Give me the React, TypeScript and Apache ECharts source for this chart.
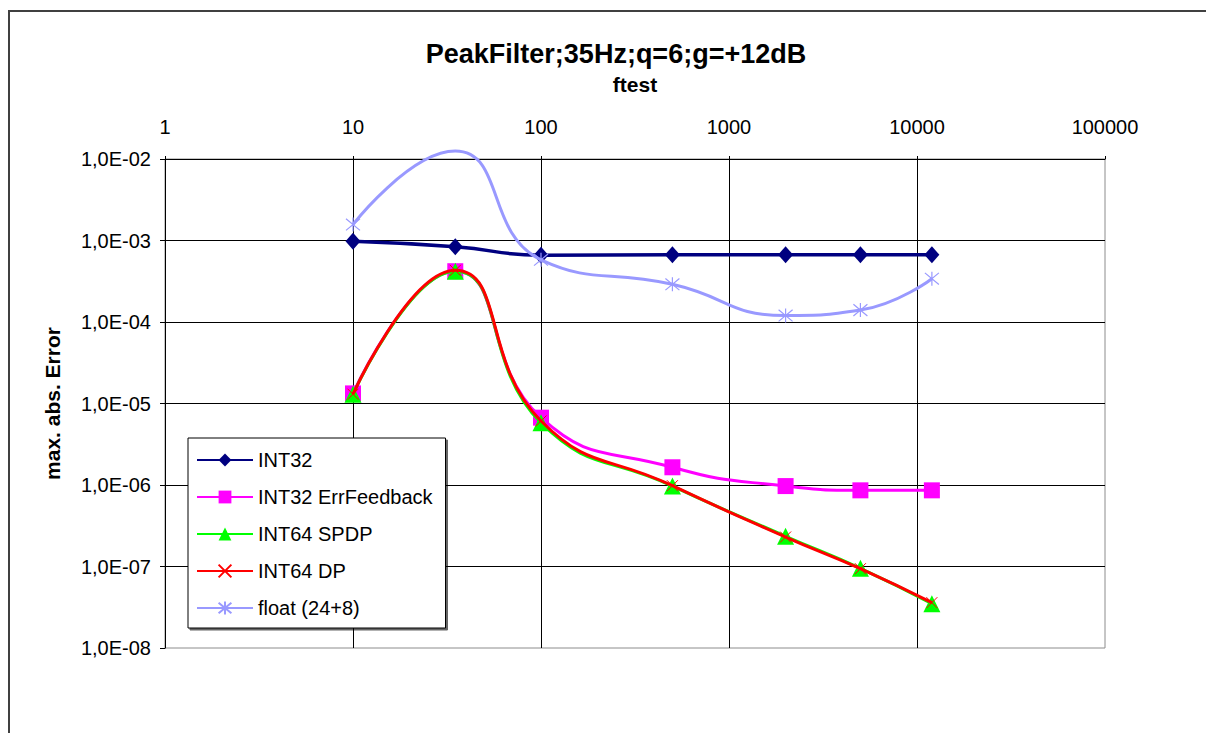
import React, { useEffect, useRef } from "react";
import * as echarts from "echarts";

const freqs = [10, 35, 100, 500, 2000, 5000, 12000];
const int32 = [9.8e-4, 8.4e-4, 6.6e-4, 6.7e-4, 6.7e-4, 6.7e-4, 6.7e-4];
const int32Err = [1.33e-5, 4.2e-4, 6.7e-6, 1.65e-6, 9.7e-7, 8.6e-7, 8.6e-7];
const int64Spdp = [1.3e-5, 4.2e-4, 5.8e-6, 9.7e-7, 2.35e-7, 9.5e-8, 3.5e-8];
const int64Dp = [1.3e-5, 4.3e-4, 6.1e-6, 9.8e-7, 2.3e-7, 9.4e-8, 3.6e-8];
const float248 = [1.57e-3, 1.25e-2, 5.8e-4, 2.9e-4, 1.2e-4, 1.4e-4, 3.4e-4];
const hiddenMarkerIdx = [1]; // float marker at 35 not visible

const seriesNames = ["INT32", "INT32 ErrFeedback", "INT64 SPDP", "INT64 DP", "float (24+8)"];
const xTickLabels = ["1", "10", "100", "1000", "10000", "100000"];

const FONT = 'Arial, "Liberation Sans", sans-serif';

const crossPath = "path://M0,0L10,10M10,0L0,10";
const starPath = "path://M0,0L10,10M10,0L0,10M5,-1L5,11";

function fmtY(v: number) {
  const e = Math.round(Math.log10(v));
  const s = e < 0 ? "-" : "+";
  return "1,0E" + s + String(Math.abs(e)).padStart(2, "0");
}

export default function App() {
  const ref = useRef<HTMLDivElement>(null);
  useEffect(() => {
    if (!ref.current) return;
    const chart = echarts.init(ref.current, null, { renderer: "svg" });
    const mk = (vals: number[]) => freqs.map((f, i) => [f, vals[i]]);
    const option: any = {
      animation: false,
      backgroundColor: "#ffffff",
      textStyle: { fontFamily: FONT },
      title: {
        text: "PeakFilter;35Hz;q=6;g=+12dB",
        left: 611,
        textAlign: "center",
        top: 35,
        textStyle: { fontFamily: FONT, fontSize: 27, fontWeight: "bold", color: "#000" },
      },
      graphic: [
        {
          type: "rect",
          shape: { x: 9, y: 11, width: 1300, height: 1000 },
          style: { fill: "none", stroke: "#404040", lineWidth: 2 },
          silent: true,
        },
      ],
      grid: {
        left: 165,
        top: 159,
        width: 940,
        height: 489,
        show: true,
        borderColor: "#8c8c8c",
        borderWidth: 1,
        containLabel: false,
      },
      legend: {
        orient: "vertical",
        left: 188,
        top: 438,
        data: seriesNames,
        backgroundColor: "#fff",
        borderColor: "#000",
        borderWidth: 1,
        padding: [12, 13, 10, 8],
        itemWidth: 56,
        itemHeight: 16,
        itemGap: 17,
        shadowColor: "rgba(0,0,0,0.6)",
        shadowOffsetX: 2,
        shadowOffsetY: 2,
        textStyle: { fontFamily: FONT, fontSize: 20, lineHeight: 20, color: "#000", padding: [0, 0, 0, 0] },
      },
      xAxis: {
        type: "log",
        logBase: 10,
        min: 1,
        max: 100000,
        position: "top",
        name: "ftest",
        nameLocation: "middle",
        nameGap: 64,
        nameTextStyle: { fontFamily: FONT, fontSize: 21, fontWeight: "bold", color: "#000", verticalAlign: "bottom" },
        axisLine: { show: true, lineStyle: { color: "#000", width: 1 } },
        axisTick: { show: true, inside: false, length: 3, lineStyle: { color: "#000" } },
        axisLabel: {
          fontFamily: FONT,
          fontSize: 20,
          color: "#000",
          margin: 22,
          formatter: (v: number) => {
            const e = Math.round(Math.log10(v));
            return xTickLabels[e] ?? String(v);
          },
        },
        splitLine: { show: true, showMinLine: false, showMaxLine: false, lineStyle: { color: "#000", width: 1 } },
        minorTick: { show: false },
      },
      yAxis: {
        type: "log",
        logBase: 10,
        min: 1e-8,
        max: 1e-2,
        name: "max. abs. Error",
        nameLocation: "middle",
        nameGap: 102,
        nameRotate: 90,
        nameTextStyle: { fontFamily: FONT, fontSize: 21, fontWeight: "bold", color: "#000" },
        axisLine: { show: true, lineStyle: { color: "#000", width: 1 } },
        axisTick: { show: true, length: 5, lineStyle: { color: "#000" } },
        axisLabel: { fontFamily: FONT, fontSize: 20, color: "#000", margin: 14, formatter: fmtY },
        splitLine: { show: true, showMinLine: false, showMaxLine: false, lineStyle: { color: "#000", width: 1 } },
      },
      series: [
        {
          name: seriesNames[0],
          type: "line",
          data: mk(int32),
          smooth: 0.5,
          symbol: "diamond",
          symbolSize: [15, 17],
          lineStyle: { color: "#000080", width: 3.5 },
          itemStyle: { color: "#000080" },
          z: 2,
        },
        {
          name: seriesNames[1],
          type: "line",
          data: mk(int32Err),
          smooth: 0.5,
          symbol: "rect",
          symbolSize: 16,
          lineStyle: { color: "#ff00ff", width: 3 },
          itemStyle: { color: "#ff00ff" },
          z: 3,
        },
        {
          name: seriesNames[2],
          type: "line",
          data: mk(int64Spdp),
          smooth: 0.5,
          symbol: "triangle",
          symbolSize: 17,
          lineStyle: { color: "#00ff00", width: 3 },
          itemStyle: { color: "#00ff00" },
          z: 4,
        },
        {
          name: seriesNames[3],
          type: "line",
          data: mk(int64Dp),
          smooth: 0.5,
          symbol: crossPath,
          symbolSize: 11,
          lineStyle: { color: "#ff0000", width: 3 },
          itemStyle: { color: "#ff0000", borderColor: "#ff0000", borderWidth: 1 },
          z: 5,
        },
        {
          name: seriesNames[4],
          type: "line",
          clip: false,
          data: freqs.map((f, i) =>
            hiddenMarkerIdx.includes(i)
              ? { value: [f, float248[i]], symbol: "none" }
              : { value: [f, float248[i]] }
          ),
          smooth: 0.5,
          symbol: starPath,
          symbolSize: 14,
          lineStyle: { color: "#9999ff", width: 3 },
          itemStyle: { color: "#9999ff", borderColor: "#9999ff", borderWidth: 1.2 },
          z: 6,
        },
      ],
    };
    chart.setOption(option);
    return () => chart.dispose();
  }, []);
  return (
    <div
      ref={ref}
      style={{ position: "fixed", left: 0, top: 0, width: 1206, height: 733, background: "#fff" }}
    />
  );
}
